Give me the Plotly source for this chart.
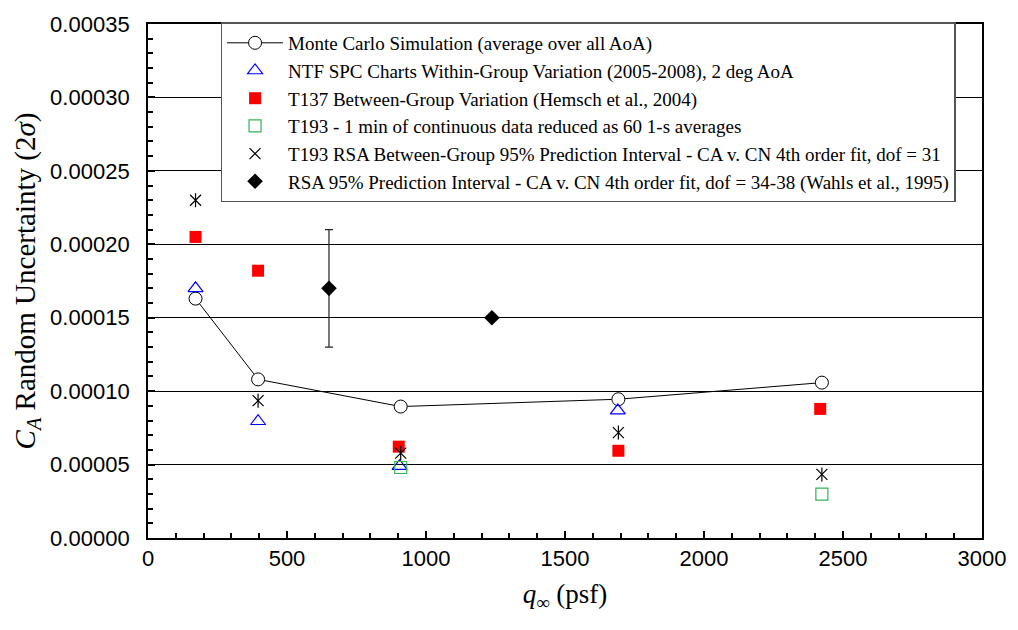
import plotly.graph_objects as go

# Data
mc_q = [171, 396, 909, 1692, 2424]
mc_ca = [0.000163, 0.000108, 0.0000895, 0.0000945, 0.0001058]

ntf_q = [171, 396, 905, 1690]
ntf_ca = [0.000170, 0.0000795, 0.0000489, 0.0000868]

t137_q = [171, 396, 902, 1692, 2418]
t137_ca = [0.000205, 0.000182, 0.0000622, 0.0000594, 0.0000879]

t193_q = [909, 2424]
t193_ca = [0.0000480, 0.0000299]

rsa193_q = [171, 396, 909, 1692, 2424]
rsa193_ca = [0.000230, 0.0000935, 0.0000578, 0.0000718, 0.0000433]

wahls_q = [651, 1237]
wahls_ca = [0.000170, 0.000150]
wahls_err = [0.000040, 0.0]

x_range = [0, 3000]
y_range = [0, 0.00035]

serif = "Liberation Serif, Times New Roman, serif"
sans = "Liberation Sans, Arial, sans-serif"

fig = go.Figure()

fig.add_trace(go.Scatter(
    x=mc_q, y=mc_ca, mode="lines+markers",
    name="Monte Carlo Simulation (average over all AoA)",
    line=dict(color="black", width=1),
    marker=dict(symbol="circle", size=13, color="white", line=dict(color="black", width=1)),
))
fig.add_trace(go.Scatter(
    x=ntf_q, y=ntf_ca, mode="markers",
    name="NTF SPC Charts Within-Group Variation (2005-2008), 2 deg AoA",
    marker=dict(symbol="triangle-up-open", size=13, color="#0000ff", line=dict(width=1.2)),
))
fig.add_trace(go.Scatter(
    x=t137_q, y=t137_ca, mode="markers",
    name="T137 Between-Group Variation (Hemsch et al., 2004)",
    marker=dict(symbol="square", size=12, color="#ff0000"),
))
fig.add_trace(go.Scatter(
    x=t193_q, y=t193_ca, mode="markers",
    name="T193 - 1 min of continuous data reduced as 60 1-s averages",
    marker=dict(symbol="square-open", size=12, color="#33b35a", line=dict(width=1.2)),
))
fig.add_trace(go.Scatter(
    x=rsa193_q, y=rsa193_ca, mode="markers",
    name="T193 RSA Between-Group 95% Prediction Interval - CA v. CN 4th order fit, dof = 31",
    legendgroup="rsa193",
    marker=dict(symbol="x-thin-open", size=11, color="black", line=dict(width=1.2, color="black")),
))
fig.add_trace(go.Scatter(
    x=rsa193_q, y=rsa193_ca, mode="markers",
    name="T193 RSA vertical", legendgroup="rsa193", showlegend=False,
    marker=dict(symbol="line-ns-open", size=10, color="black", line=dict(width=1.2, color="black")),
))
fig.add_trace(go.Scatter(
    x=wahls_q, y=wahls_ca, mode="markers",
    name="RSA 95% Prediction Interval - CA v. CN 4th order fit, dof = 34-38 (Wahls et al., 1995)",
    marker=dict(symbol="diamond", size=12, color="black"),
    error_y=dict(type="data", array=wahls_err, visible=True, color="#222222", thickness=1.2, width=4),
))

fig.update_layout(
    width=1018, height=630,
    margin=dict(l=148, r=30, t=15, b=92),
    plot_bgcolor="white", paper_bgcolor="white",
    font=dict(family=sans, color="black", size=20),
    showlegend=True,
    legend=dict(
        x=0.087, y=1.003, xanchor="left", yanchor="top",
        bgcolor="white", bordercolor="#555555", borderwidth=1.5,
        font=dict(family=serif, size=19, color="black"),
        itemwidth=56, tracegroupgap=1, traceorder="normal",
    ),
    xaxis=dict(
        range=x_range, dtick=500, tick0=0,
        showline=True, linecolor="black", linewidth=1.5, mirror=True,
        ticks="inside", ticklen=7, tickwidth=1.5, tickcolor="black",
        minor=dict(ticks="inside", dtick=100, ticklen=5, tickwidth=1.5, tickcolor="black", showgrid=False),
        showgrid=False, zeroline=False,
        tickfont=dict(family=sans, size=22),
        title=dict(text="<i>q</i><sub>∞</sub> (psf)", font=dict(family=serif, size=27), standoff=14),
    ),
    yaxis=dict(
        range=y_range, dtick=0.00005, tick0=0, tickformat=".5f",
        ticksuffix="  ",
        showline=True, linecolor="black", linewidth=1.5, mirror=True,
        ticks="inside", ticklen=7, tickwidth=1.5, tickcolor="black",
        minor=dict(ticks="inside", dtick=0.00001, ticklen=5, tickwidth=1.5, tickcolor="black", showgrid=False),
        showgrid=True, gridcolor="black", gridwidth=1, zeroline=False,
        tickfont=dict(family=sans, size=22),
        title=dict(text="<i>C<sub>A</sub></i> Random Uncertainty (2<i>σ</i>)", font=dict(family=serif, size=29), standoff=6),
    ),
)

fig.write_html("out.html")
